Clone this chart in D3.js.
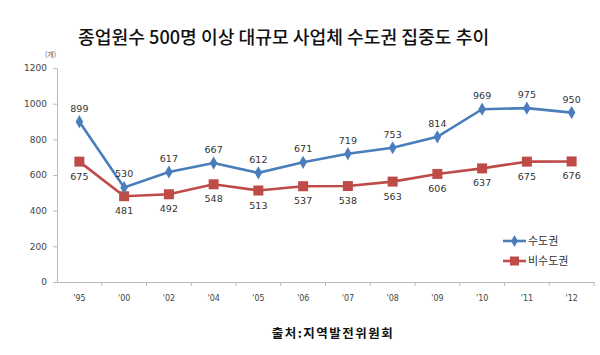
<!DOCTYPE html>
<html><head><meta charset="utf-8">
<script src="https://cdn.jsdelivr.net/npm/d3@7/dist/d3.min.js"></script>
<style>body{margin:0;background:#fff;} svg{display:block;}</style>
</head><body>
<svg id="c" width="600" height="355"></svg>
<script>
const categories = ["'95","'00","'02","'04","'05","'06","'07","'08","'09","'10","'11","'12"];
const capital = [899,530,617,667,612,671,719,753,814,969,975,950];
const nonCapital = [675,481,492,548,513,537,538,563,606,637,675,676];
const yTicks = [0,200,400,600,800,1000,1200];
const seriesNames = ["수도권","비수도권"];
const titleText = "종업원수 500명 이상 대규모 사업체 수도권 집중도 추이";
const unitText = "(개)";
const sourceText = "출처:지역발전위원회";

const svg = d3.select("#c");
const L = 57, R = 594, T = 68, B = 282;
const font = "'Noto Sans CJK KR', 'Noto Sans', sans-serif";
const x = d3.scaleBand().domain(categories).range([L, R]);
const y = d3.scaleLinear().domain([0, 1200]).range([B, T]);
const cx = d => x(d) + x.bandwidth() / 2;
const blue = "#4a7ebb", red = "#be4b48";

svg.append("text").attr("x", 78).attr("y", 44).attr("font-family", font)
  .attr("font-size", 18.2).attr("font-weight", 500).attr("fill", "#111").text(titleText);
svg.append("text").attr("x", 45).attr("y", 57).attr("font-family", font)
  .attr("font-size", 7).attr("fill", "#555").text(unitText);

// y axis
const ya = svg.append("g").attr("transform", `translate(${L},0)`)
  .call(d3.axisLeft(y).tickValues(yTicks).tickFormat(d3.format("d")).tickSize(4).tickPadding(6).tickSizeOuter(0));
ya.select(".domain").attr("stroke", "#bbb");
ya.selectAll(".tick line").attr("stroke", "#bbb");
ya.selectAll("text").attr("font-family", "'DejaVu Sans', sans-serif").attr("font-size", 9).attr("fill", "#444");

// x axis
const xa = svg.append("g").attr("transform", `translate(0,${B})`)
  .call(d3.axisBottom(x).tickSize(0).tickPadding(13));
xa.select(".domain").attr("stroke", "#bbb");
xa.selectAll("text").attr("font-family", "'DejaVu Sans', sans-serif").attr("font-size", 8).attr("fill", "#444");
xa.selectAll(".bt").data(categories).enter().append("line")
  .attr("x1", d => x(d) + x.bandwidth()).attr("x2", d => x(d) + x.bandwidth())
  .attr("y1", 0).attr("y2", 4).attr("stroke", "#bbb");

const line = d3.line().x((d, i) => cx(categories[i])).y(d => y(d));

// red series
svg.append("path").datum(nonCapital).attr("d", line).attr("fill", "none")
  .attr("stroke", red).attr("stroke-width", 2.6);
svg.selectAll(".sq").data(nonCapital).enter().append("rect")
  .attr("x", (d, i) => cx(categories[i]) - 5).attr("y", d => y(d) - 5)
  .attr("width", 10).attr("height", 10).attr("fill", red);

// blue series
svg.append("path").datum(capital).attr("d", line).attr("fill", "none")
  .attr("stroke", blue).attr("stroke-width", 2.6);
svg.selectAll(".dm").data(capital).enter().append("path")
  .attr("d", d3.symbol().type(d3.symbolDiamond).size(50))
  .attr("transform", (d, i) => `translate(${cx(categories[i])},${y(d)})`).attr("fill", blue);

// labels
svg.selectAll(".lb").data(capital).enter().append("text")
  .attr("x", (d, i) => cx(categories[i])).attr("y", d => y(d) - 10)
  .attr("text-anchor", "middle").attr("font-family", "'DejaVu Sans', sans-serif")
  .attr("font-size", 9.5).attr("fill", "#333").text(d => d);
svg.selectAll(".lr").data(nonCapital).enter().append("text")
  .attr("x", (d, i) => cx(categories[i])).attr("y", d => y(d) + 18)
  .attr("text-anchor", "middle").attr("font-family", "'DejaVu Sans', sans-serif")
  .attr("font-size", 9.5).attr("fill", "#333").text(d => d);

// legend
const lg = svg.append("g");
[[blue, 241, "d"], [red, 261, "s"]].forEach((c, i) => {
  lg.append("line").attr("x1", 503).attr("x2", 526).attr("y1", c[1]).attr("y2", c[1])
    .attr("stroke", c[0]).attr("stroke-width", 2.6);
  if (c[2] === "d") lg.append("path").attr("d", d3.symbol().type(d3.symbolDiamond).size(40))
    .attr("transform", `translate(514.5,${c[1]})`).attr("fill", c[0]);
  else lg.append("rect").attr("x", 510).attr("y", c[1] - 4.5).attr("width", 9).attr("height", 9).attr("fill", c[0]);
  lg.append("text").attr("x", 528).attr("y", c[1] + 4).attr("font-family", font)
    .attr("font-size", 11).attr("fill", "#333").text(seriesNames[i]);
});

svg.append("text").attr("x", 333).attr("y", 338).attr("text-anchor", "middle")
  .attr("font-family", font).attr("font-size", 12.5).attr("font-weight", "bold")
  .attr("letter-spacing", 1.5).attr("fill", "#111").text(sourceText);
</script>
</body></html>
